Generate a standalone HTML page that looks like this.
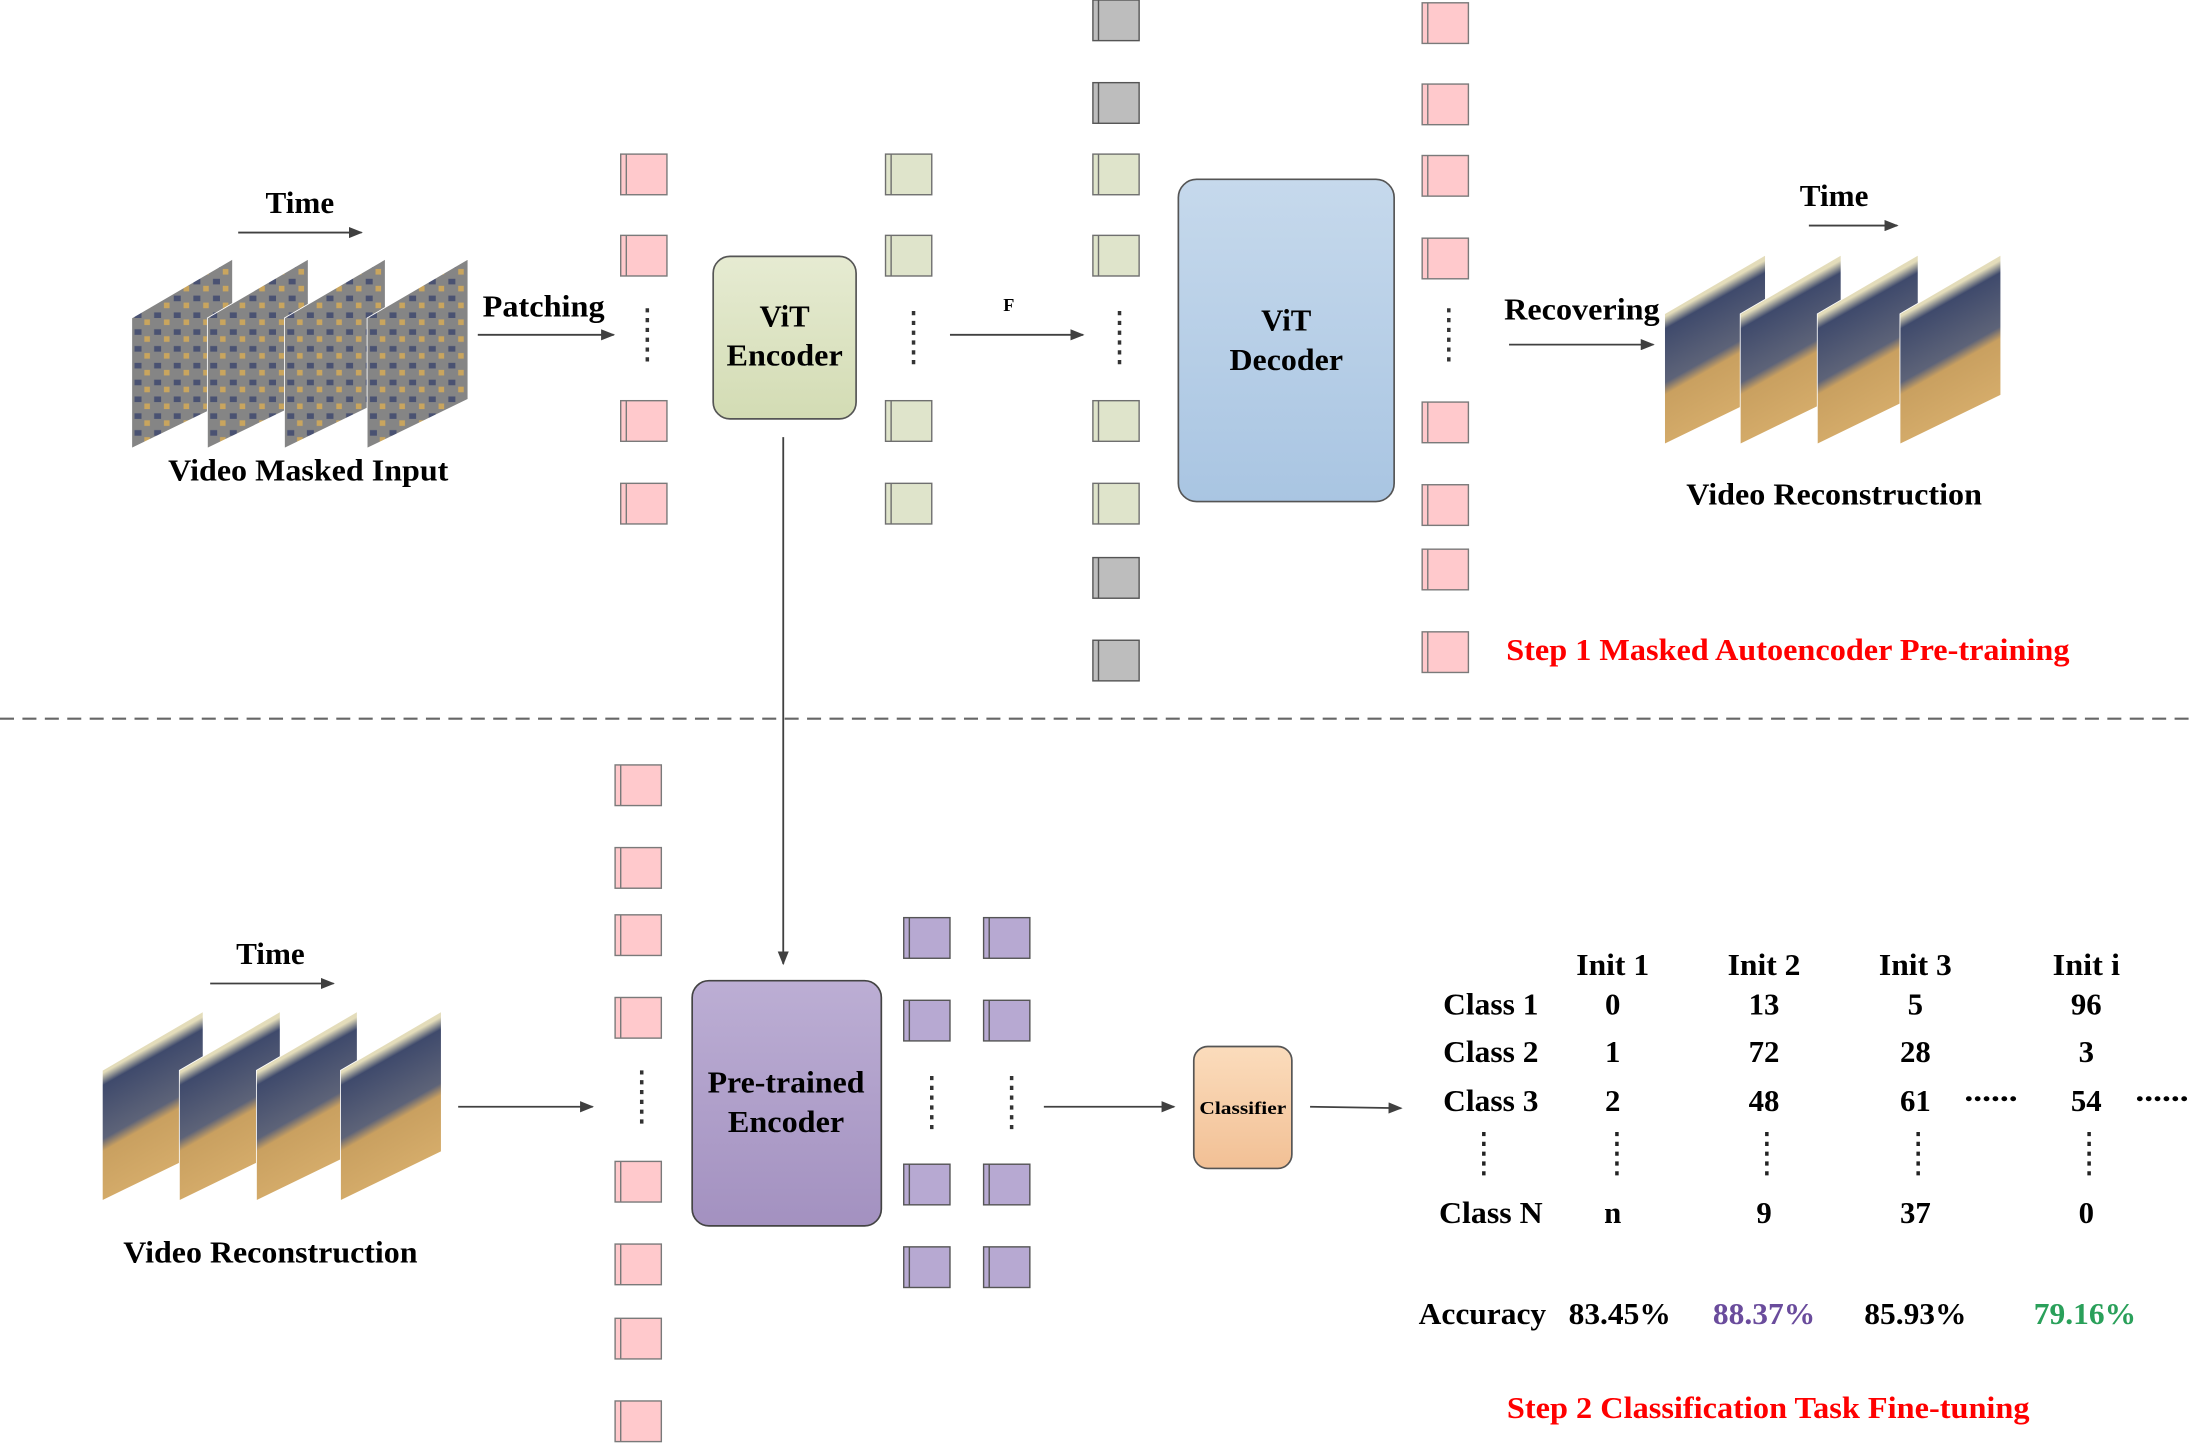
<!DOCTYPE html>
<html><head><meta charset="utf-8"><style>
html,body{margin:0;padding:0;background:#fff;width:2197px;height:1443px;overflow:hidden}
svg{display:block}
svg text{font-family:"Liberation Serif","DejaVu Serif",serif;font-weight:bold;fill:#000}
</style></head><body>
<svg width="2197" height="1443" viewBox="0 0 1568 1030" preserveAspectRatio="none" xmlns="http://www.w3.org/2000/svg" font-family="Liberation Serif, DejaVu Serif, serif" font-weight="bold">
<defs>
<marker id="ar" markerWidth="10" markerHeight="8" refX="9" refY="4" orient="auto" markerUnits="userSpaceOnUse"><path d="M0,0 L10,4 L0,8 z" fill="#404040"/></marker>
<linearGradient id="gEnc" x1="0" y1="0" x2="0" y2="1"><stop offset="0" stop-color="#e6ebd2"/><stop offset="1" stop-color="#d3dcb4"/></linearGradient>
<linearGradient id="gDec" x1="0" y1="0" x2="0" y2="1"><stop offset="0" stop-color="#c6d9ec"/><stop offset="1" stop-color="#a9c5e2"/></linearGradient>
<linearGradient id="gPre" x1="0" y1="0" x2="0" y2="1"><stop offset="0" stop-color="#bcaed4"/><stop offset="1" stop-color="#a391c0"/></linearGradient>
<linearGradient id="gCls" x1="0" y1="0" x2="0" y2="1"><stop offset="0" stop-color="#fbdcbc"/><stop offset="1" stop-color="#f2c095"/></linearGradient>
<linearGradient id="gVid" x1="0" y1="0" x2="0.3" y2="1"><stop offset="0" stop-color="#efeccd"/><stop offset="0.3" stop-color="#e3dcba"/><stop offset="0.36" stop-color="#3f4a6c"/><stop offset="0.62" stop-color="#5d6378"/><stop offset="0.68" stop-color="#c9a060"/><stop offset="1" stop-color="#d7ae6c"/></linearGradient>
<pattern id="pMask" width="14" height="12" patternUnits="userSpaceOnUse"><rect width="14" height="12" fill="#858585"/><rect x="2" y="2" width="5" height="4" fill="#4a5272"/><rect x="9" y="7" width="4" height="4" fill="#c9a55e"/></pattern>
<g id="pk"><rect x="0" y="0" width="33" height="29" fill="#ffc9cc" stroke="#7a7a7a" stroke-width="1"/><line x1="4" y1="0" x2="4" y2="29" stroke="#7a7a7a"/></g>
<g id="gr"><rect x="0" y="0" width="33" height="29" fill="#dfe4cb" stroke="#6f6f6f" stroke-width="1"/><line x1="4" y1="0" x2="4" y2="29" stroke="#6f6f6f"/></g>
<g id="gy"><rect x="0" y="0" width="33" height="29" fill="#bdbdbd" stroke="#555" stroke-width="1"/><line x1="4" y1="0" x2="4" y2="29" stroke="#555"/></g>
<g id="pu"><rect x="0" y="0" width="33" height="29" fill="#b7a9d2" stroke="#555" stroke-width="1"/><line x1="4" y1="0" x2="4" y2="29" stroke="#555"/></g>
<path id="frm" d="M0,42 L72,0 L72,100 L0,135 z"/>
</defs>

<!-- Top: masked input -->
<text x="214" y="152" font-size="22" text-anchor="middle" textLength="49" lengthAdjust="spacingAndGlyphs">Time</text>
<line x1="170" y1="166" x2="258" y2="166" stroke="#404040" stroke-width="1.3" marker-end="url(#ar)"/>
<g stroke="#fff" stroke-width="0.6">
<use href="#frm" x="94" y="185" fill="url(#pMask)"/>
<use href="#frm" x="148" y="185" fill="url(#pMask)"/>
<use href="#frm" x="203" y="185" fill="url(#pMask)"/>
<use href="#frm" x="262" y="185" fill="url(#pMask)"/>
</g>
<text x="220" y="343" font-size="22" text-anchor="middle" textLength="200" lengthAdjust="spacingAndGlyphs">Video Masked Input</text>
<text x="388" y="226" font-size="22" text-anchor="middle" textLength="87" lengthAdjust="spacingAndGlyphs">Patching</text>
<line x1="341" y1="239" x2="438" y2="239" stroke="#404040" stroke-width="1.3" marker-end="url(#ar)"/>

<use href="#pk" x="443" y="110"/><use href="#pk" x="443" y="168"/><use href="#pk" x="443" y="286"/><use href="#pk" x="443" y="345"/>
<line x1="462" y1="220" x2="462" y2="260" stroke="#333" stroke-width="2.5" stroke-dasharray="3,4"/>

<rect x="509" y="183" width="102" height="116" rx="12" fill="url(#gEnc)" stroke="#555" stroke-width="1.2"/>
<text x="560" y="233" font-size="22" text-anchor="middle">ViT</text>
<text x="560" y="261" font-size="22" text-anchor="middle" textLength="83" lengthAdjust="spacingAndGlyphs">Encoder</text>

<use href="#gr" x="632" y="110"/><use href="#gr" x="632" y="168"/><use href="#gr" x="632" y="286"/><use href="#gr" x="632" y="345"/>
<line x1="652" y1="222" x2="652" y2="262" stroke="#333" stroke-width="2.5" stroke-dasharray="3,4"/>

<text x="720" y="222" font-size="13" text-anchor="middle">F</text>
<line x1="678" y1="239" x2="773" y2="239" stroke="#404040" stroke-width="1.3" marker-end="url(#ar)"/>

<use href="#gy" x="780" y="0"/><use href="#gy" x="780" y="59"/><use href="#gr" x="780" y="110"/><use href="#gr" x="780" y="168"/><use href="#gr" x="780" y="286"/><use href="#gr" x="780" y="345"/><use href="#gy" x="780" y="398"/><use href="#gy" x="780" y="457"/>
<line x1="799" y1="222" x2="799" y2="262" stroke="#333" stroke-width="2.5" stroke-dasharray="3,4"/>

<rect x="841" y="128" width="154" height="230" rx="13" fill="url(#gDec)" stroke="#555" stroke-width="1.2"/>
<text x="918" y="236" font-size="22" text-anchor="middle">ViT</text>
<text x="918" y="264" font-size="22" text-anchor="middle" textLength="81" lengthAdjust="spacingAndGlyphs">Decoder</text>

<use href="#pk" x="1015" y="2"/><use href="#pk" x="1015" y="60"/><use href="#pk" x="1015" y="111"/><use href="#pk" x="1015" y="170"/><use href="#pk" x="1015" y="287"/><use href="#pk" x="1015" y="346"/><use href="#pk" x="1015" y="392"/><use href="#pk" x="1015" y="451"/>
<line x1="1034" y1="220" x2="1034" y2="260" stroke="#333" stroke-width="2.5" stroke-dasharray="3,4"/>

<text x="1129" y="228" font-size="22" text-anchor="middle" textLength="111" lengthAdjust="spacingAndGlyphs">Recovering</text>
<line x1="1077" y1="246" x2="1180" y2="246" stroke="#404040" stroke-width="1.3" marker-end="url(#ar)"/>
<text x="1309" y="147" font-size="22" text-anchor="middle" textLength="49" lengthAdjust="spacingAndGlyphs">Time</text>
<line x1="1291" y1="161" x2="1354" y2="161" stroke="#404040" stroke-width="1.3" marker-end="url(#ar)"/>
<g stroke="#fff" stroke-width="0.6">
<use href="#frm" x="1188" y="182" fill="url(#gVid)"/>
<use href="#frm" x="1242" y="182" fill="url(#gVid)"/>
<use href="#frm" x="1297" y="182" fill="url(#gVid)"/>
<use href="#frm" x="1356" y="182" fill="url(#gVid)"/>
</g>
<text x="1309" y="360" font-size="22" text-anchor="middle" textLength="211" lengthAdjust="spacingAndGlyphs">Video Reconstruction</text>
<text x="1075" y="471" font-size="22" style="fill:#ff0000" textLength="402" lengthAdjust="spacingAndGlyphs">Step 1 Masked Autoencoder Pre-training</text>

<line x1="559" y1="312" x2="559" y2="688" stroke="#404040" stroke-width="1.3" marker-end="url(#ar)"/>
<line x1="0" y1="513" x2="1568" y2="513" stroke="#666" stroke-width="1.5" stroke-dasharray="10,6"/>

<!-- Bottom -->
<text x="193" y="688" font-size="22" text-anchor="middle" textLength="49" lengthAdjust="spacingAndGlyphs">Time</text>
<line x1="150" y1="702" x2="238" y2="702" stroke="#404040" stroke-width="1.3" marker-end="url(#ar)"/>
<g stroke="#fff" stroke-width="0.6">
<use href="#frm" x="73" y="722" fill="url(#gVid)"/>
<use href="#frm" x="128" y="722" fill="url(#gVid)"/>
<use href="#frm" x="183" y="722" fill="url(#gVid)"/>
<use href="#frm" x="243" y="722" fill="url(#gVid)"/>
</g>
<text x="193" y="901" font-size="22" text-anchor="middle" textLength="210" lengthAdjust="spacingAndGlyphs">Video Reconstruction</text>
<line x1="327" y1="790" x2="423" y2="790" stroke="#404040" stroke-width="1.3" marker-end="url(#ar)"/>

<use href="#pk" x="439" y="546"/><use href="#pk" x="439" y="605"/><use href="#pk" x="439" y="653"/><use href="#pk" x="439" y="712"/><use href="#pk" x="439" y="829"/><use href="#pk" x="439" y="888"/><use href="#pk" x="439" y="941"/><use href="#pk" x="439" y="1000"/>
<line x1="458" y1="764" x2="458" y2="802" stroke="#333" stroke-width="2.5" stroke-dasharray="3,4"/>

<rect x="494" y="700" width="135" height="175" rx="12" fill="url(#gPre)" stroke="#444" stroke-width="1.2"/>
<text x="561" y="780" font-size="22" text-anchor="middle" textLength="112" lengthAdjust="spacingAndGlyphs">Pre-trained</text>
<text x="561" y="808" font-size="22" text-anchor="middle" textLength="83" lengthAdjust="spacingAndGlyphs">Encoder</text>

<use href="#pu" x="645" y="655"/><use href="#pu" x="645" y="714"/><use href="#pu" x="645" y="831"/><use href="#pu" x="645" y="890"/>
<use href="#pu" x="702" y="655"/><use href="#pu" x="702" y="714"/><use href="#pu" x="702" y="831"/><use href="#pu" x="702" y="890"/>
<line x1="665" y1="768" x2="665" y2="808" stroke="#333" stroke-width="2.5" stroke-dasharray="3,4"/>
<line x1="722" y1="768" x2="722" y2="808" stroke="#333" stroke-width="2.5" stroke-dasharray="3,4"/>

<line x1="745" y1="790" x2="838" y2="790" stroke="#404040" stroke-width="1.3" marker-end="url(#ar)"/>
<rect x="852" y="747" width="70" height="87" rx="10" fill="url(#gCls)" stroke="#555" stroke-width="1.2"/>
<text x="887" y="795" font-size="13" text-anchor="middle" textLength="62" lengthAdjust="spacingAndGlyphs">Classifier</text>
<line x1="935" y1="790" x2="1000" y2="791" stroke="#404040" stroke-width="1.3" marker-end="url(#ar)"/>

<g font-size="22" text-anchor="middle">
<text x="1151" y="696" textLength="52" lengthAdjust="spacingAndGlyphs">Init 1</text><text x="1259" y="696" textLength="52" lengthAdjust="spacingAndGlyphs">Init 2</text><text x="1367" y="696" textLength="52" lengthAdjust="spacingAndGlyphs">Init 3</text><text x="1489" y="696" textLength="48" lengthAdjust="spacingAndGlyphs">Init i</text>
<text x="1064" y="724" textLength="68" lengthAdjust="spacingAndGlyphs">Class 1</text><text x="1151" y="724">0</text><text x="1259" y="724">13</text><text x="1367" y="724">5</text><text x="1489" y="724">96</text>
<text x="1064" y="758" textLength="68" lengthAdjust="spacingAndGlyphs">Class 2</text><text x="1151" y="758">1</text><text x="1259" y="758">72</text><text x="1367" y="758">28</text><text x="1489" y="758">3</text>
<text x="1064" y="793" textLength="68" lengthAdjust="spacingAndGlyphs">Class 3</text><text x="1151" y="793">2</text><text x="1259" y="793">48</text><text x="1367" y="793">61</text><text x="1489" y="793">54</text>
<text x="1421" y="786" textLength="38" lengthAdjust="spacingAndGlyphs">......</text><text x="1543" y="786" textLength="38" lengthAdjust="spacingAndGlyphs">......</text>
<text x="1064" y="873" textLength="74" lengthAdjust="spacingAndGlyphs">Class N</text><text x="1151" y="873">n</text><text x="1259" y="873">9</text><text x="1367" y="873">37</text><text x="1489" y="873">0</text>
<text x="1058" y="945" textLength="91" lengthAdjust="spacingAndGlyphs">Accuracy</text><text x="1156" y="945" textLength="73" lengthAdjust="spacingAndGlyphs">83.45%</text>
<text x="1259" y="945" style="fill:#6a4c9c" textLength="73" lengthAdjust="spacingAndGlyphs">88.37%</text>
<text x="1367" y="945" textLength="73" lengthAdjust="spacingAndGlyphs">85.93%</text>
<text x="1488" y="945" style="fill:#2aa05a" textLength="73" lengthAdjust="spacingAndGlyphs">79.16%</text>
</g>
<g stroke="#222" stroke-width="2.5" stroke-dasharray="3,4">
<line x1="1059" y1="808" x2="1059" y2="842"/><line x1="1154" y1="808" x2="1154" y2="842"/><line x1="1261" y1="808" x2="1261" y2="842"/><line x1="1369" y1="808" x2="1369" y2="842"/><line x1="1491" y1="808" x2="1491" y2="842"/>
</g>
<text x="1262" y="1012" font-size="22" text-anchor="middle" style="fill:#ff0000" textLength="373" lengthAdjust="spacingAndGlyphs">Step 2 Classification Task Fine-tuning</text>
</svg>
</body></html>
